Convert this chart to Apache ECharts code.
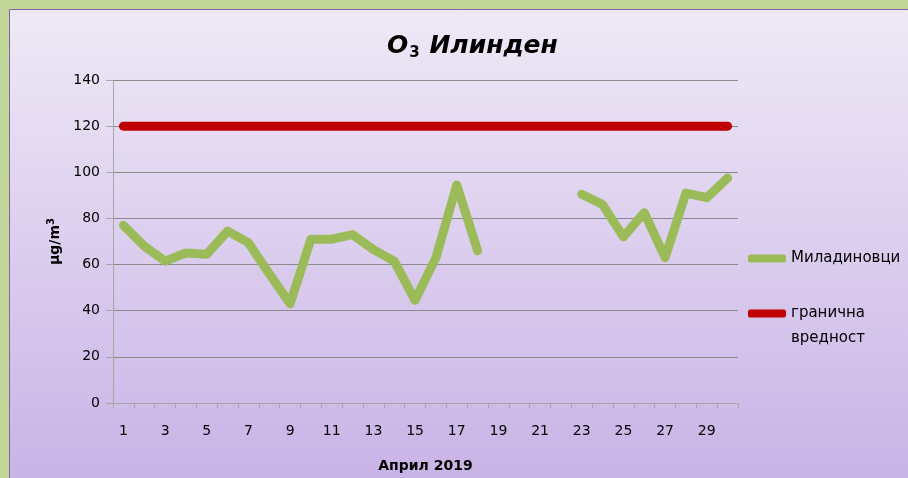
<!DOCTYPE html>
<html>
<head>
<meta charset="utf-8">
<script src="https://cdn.jsdelivr.net/npm/echarts@6/dist/echarts.min.js"></script>
<style>
  html, body { margin: 0; padding: 0; background: #c4d79b; }
  #chart { width: 908px; height: 478px; }
</style>
</head>
<body>
<div id="chart"></div>
<script>
const days = ['1','2','3','4','5','6','7','8','9','10','11','12','13','14','15',
              '16','17','18','19','20','21','22','23','24','25','26','27','28','29','30'];
const miladinovci = [77, 68, 61.5, 65, 64.5, 74.5, 69.5, 56, 43, 71, 71, 73, 66.5, 61.5, 44.5,
                     63, 94.5, 66, null, null, null, null, 90.5, 86, 72, 82.5, 63, 91, 89, 97.5];
const limitValue = [120, 120, 120, 120, 120, 120, 120, 120, 120, 120, 120, 120, 120, 120, 120,
                    120, 120, 120, 120, 120, 120, 120, 120, 120, 120, 120, 120, 120, 120, 120];
const yTicks = { min: 0, max: 140, interval: 20 };

const font = 'DejaVu Sans';
const chart = echarts.init(document.getElementById('chart'));

const legendText = { fontFamily: font, fontSize: 15, color: '#000', lineHeight: 25 };

chart.setOption({
  animation: false,
  backgroundColor: '#c4d79b',
  textStyle: { fontFamily: font },
  graphic: [{
    type: 'rect',
    z: -10,
    silent: true,
    shape: { x: 9.5, y: 9.5, width: 910, height: 480 },
    style: {
      fill: new echarts.graphic.LinearGradient(0, 0, 0, 1, [
        { offset: 0, color: '#efe9f6' },
        { offset: 1, color: '#c8b2e6' }
      ]),
      stroke: '#7f64a2',
      lineWidth: 1
    }
  }],
  title: {
    left: 382,
    top: 27,
    text: '{a|O}{s|3}{a| Илинден}',
    textStyle: {
      rich: {
        a: { fontFamily: font, fontSize: 25, fontWeight: 'bold', fontStyle: 'italic', color: '#000' },
        s: { fontFamily: font, fontSize: 15, fontWeight: 'bold', color: '#000', padding: [14, 1, 0, 1] }
      }
    }
  },
  legend: [{
    data: ['Миладиновци'],
    left: 743,
    top: 241,
    icon: 'roundRect',
    itemWidth: 38,
    itemHeight: 8,
    textStyle: legendText
  }, {
    data: ['гранична вредност'],
    left: 743,
    top: 271,
    icon: 'roundRect',
    itemWidth: 38,
    itemHeight: 8,
    // empty first line keeps the icon level with "гранична"
    formatter: () => ' \nгранична\nвредност',
    textStyle: legendText
  }],
  grid: { left: 113, right: 170, top: 80, bottom: 74 },
  xAxis: {
    type: 'category',
    data: days,
    boundaryGap: true,
    name: 'Април 2019',
    nameLocation: 'middle',
    nameGap: 56,
    nameTextStyle: { fontFamily: font, fontSize: 14, fontWeight: 'bold', color: '#000' },
    axisLine: { lineStyle: { color: '#a6a6a6', width: 1 } },
    axisTick: { show: true, interval: 0, length: 5, lineStyle: { color: '#a6a6a6' } },
    axisLabel: { interval: 1, margin: 21, fontFamily: font, fontSize: 14, color: '#000' }
  },
  yAxis: {
    type: 'value',
    min: yTicks.min,
    max: yTicks.max,
    interval: yTicks.interval,
    name: '{u|µg/m}{p|3}',
    nameLocation: 'middle',
    nameRotate: 90,
    nameGap: 48,
    nameTextStyle: {
      rich: {
        u: { fontFamily: font, fontSize: 14, fontWeight: 'bold', color: '#000' },
        p: { fontFamily: font, fontSize: 10, fontWeight: 'bold', color: '#000', padding: [0, 0, 8, 0] }
      }
    },
    axisLine: { show: true, lineStyle: { color: '#a6a6a6', width: 1 } },
    axisTick: { show: true, length: 7, lineStyle: { color: '#a6a6a6' } },
    axisLabel: { margin: 13, fontFamily: font, fontSize: 14, color: '#000' },
    splitLine: { lineStyle: { color: '#8a8a8a', width: 1 } }
  },
  series: [{
    name: 'Миладиновци',
    type: 'line',
    data: miladinovci,
    connectNulls: false,
    symbol: 'none',
    color: '#9bbb59',
    lineStyle: { color: '#9bbb59', width: 9, cap: 'round', join: 'round' }
  }, {
    name: 'гранична вредност',
    type: 'line',
    data: limitValue,
    symbol: 'none',
    color: '#c00000',
    lineStyle: { color: '#c00000', width: 9, cap: 'round', join: 'round' }
  }]
});
</script>
</body>
</html>
